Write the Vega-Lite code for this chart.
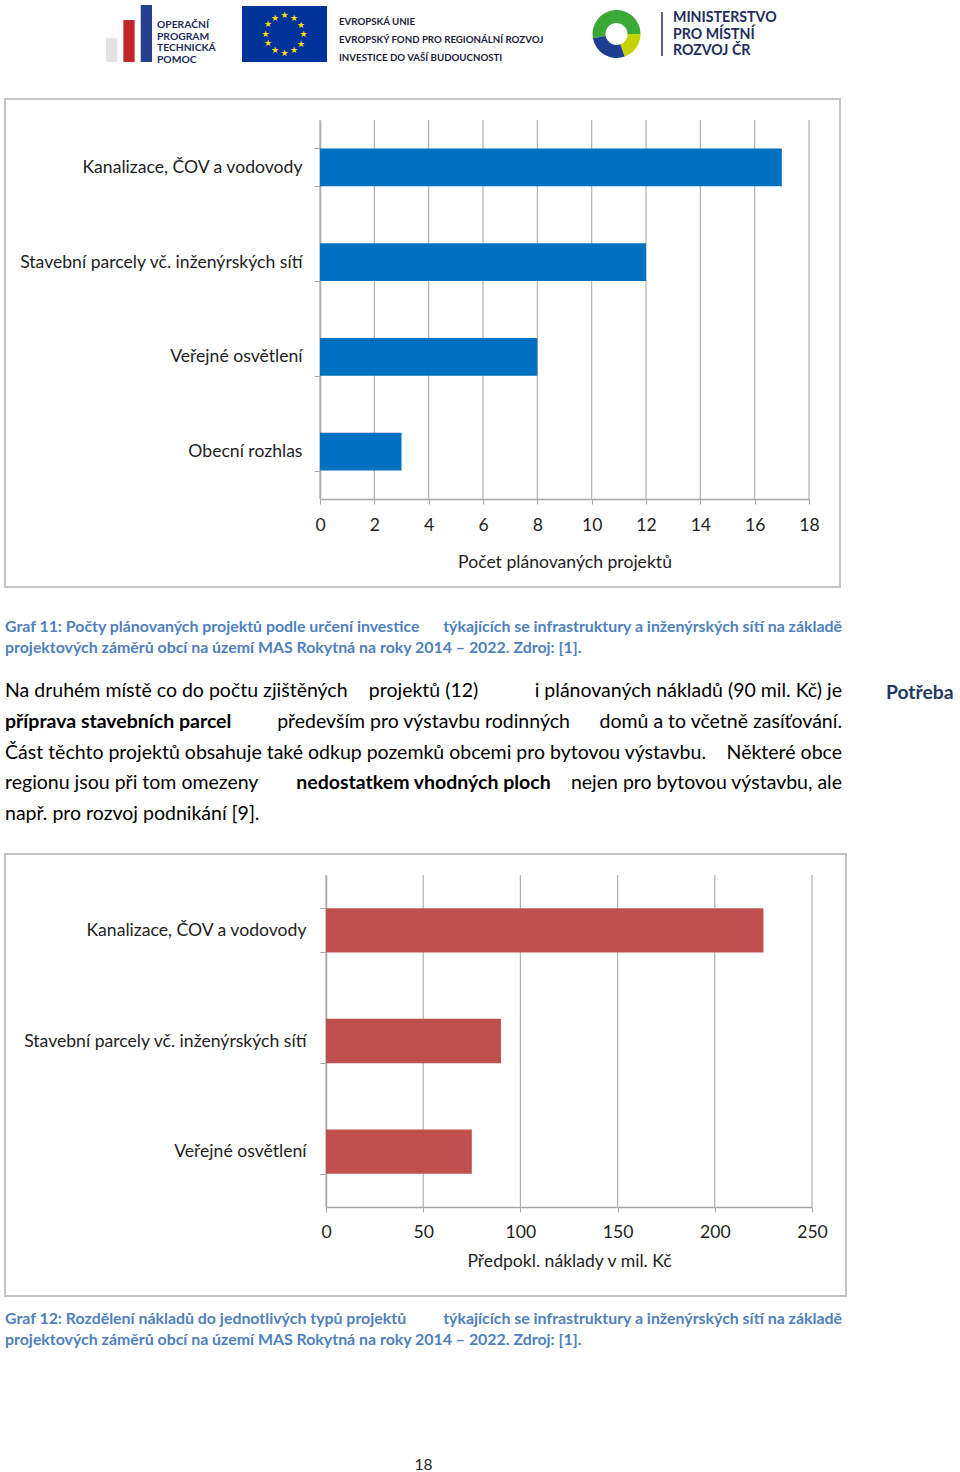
{
  "$schema": "https://vega.github.io/schema/vega-lite/v6.json",
  "width": 960,
  "height": 1472,
  "autosize": {"type": "none"},
  "padding": 0,
  "background": "#ffffff",
  "config": {"view": {"stroke": null}, "font": "Lato"},
  "resolve": {"scale": {"x": "independent", "y": "independent", "color": "independent", "theta": "independent"}},
  "layer": [
    {
      "data": {"values": [{"f": "Graf 11"}]},
      "mark": {"type": "rect", "filled": false, "stroke": "#c4c4c4", "strokeWidth": 2},
      "encoding": {
        "x": {"datum": 0, "type": "quantitative", "scale": {"domain": [0, 1], "range": [5, 840]}, "axis": null},
        "x2": {"datum": 1},
        "y": {"datum": 0, "type": "quantitative", "scale": {"domain": [0, 1], "range": [99, 587]}, "axis": null},
        "y2": {"datum": 1}
      }
    },
    {
      "data": {"values": [{"f": "Graf 12"}]},
      "mark": {"type": "rect", "filled": false, "stroke": "#c4c4c4", "strokeWidth": 2},
      "encoding": {
        "x": {"datum": 0, "type": "quantitative", "scale": {"domain": [0, 1], "range": [5, 846]}, "axis": null},
        "x2": {"datum": 1},
        "y": {"datum": 0, "type": "quantitative", "scale": {"domain": [0, 1], "range": [854, 1296]}, "axis": null},
        "y2": {"datum": 1}
      }
    },
    {
      "data": {"values": [{"v": 0}, {"v": 2}, {"v": 4}, {"v": 6}, {"v": 8}, {"v": 10}, {"v": 12}, {"v": 14}, {"v": 16}, {"v": 18}]},
      "mark": {"type": "rule", "color": "#b0b0b0", "strokeWidth": 1.2},
      "encoding": {
        "x": {"field": "v", "type": "quantitative", "scale": {"domain": [0, 18], "range": [320, 809], "nice": false}, "axis": null},
        "y": {"datum": 0, "type": "quantitative", "scale": {"domain": [0, 1], "range": [120, 499]}, "axis": null},
        "y2": {"datum": 1}
      }
    },
    {
      "data": {"values": [
        {"typ": "Kanalizace, ČOV a vodovody", "pocet": 17},
        {"typ": "Stavební parcely vč. inženýrských sítí", "pocet": 12},
        {"typ": "Veřejné osvětlení", "pocet": 8},
        {"typ": "Obecní rozhlas", "pocet": 3}
      ]},
      "mark": {"type": "bar", "color": "#0070C0"},
      "encoding": {
        "y": {
          "field": "typ", "type": "nominal", "sort": null,
          "scale": {"range": [120, 499], "paddingInner": 0.6, "paddingOuter": 0.3},
          "axis": {"orient": "left", "offset": -320, "title": null, "domainColor": "#a6a6a6", "domainWidth": 1.5, "tickBand": "extent", "tickColor": "#a6a6a6", "tickSize": 6, "labelFont": "Lato", "labelFontSize": 17.6, "labelColor": "#1e1e1e", "labelPadding": 12, "labelLimit": 400, "grid": false}
        },
        "x": {
          "field": "pocet", "type": "quantitative",
          "scale": {"domain": [0, 18], "range": [320, 809], "nice": false},
          "axis": {"orient": "bottom", "offset": -973, "values": [0, 2, 4, 6, 8, 10, 12, 14, 16, 18], "title": "Počet plánovaných projektů", "titleFont": "Lato", "titleFontSize": 17.6, "titleFontWeight": "normal", "titleColor": "#1e1e1e", "titlePadding": 19, "labelFont": "Lato", "labelFontSize": 17.6, "labelColor": "#1e1e1e", "labelPadding": 12.5, "labelFlush": false, "labelOverlap": false, "tickSize": 5, "tickColor": "#a6a6a6", "domainColor": "#a6a6a6", "domainWidth": 1.5, "grid": false}
        }
      }
    },
    {
      "data": {"values": [{"v": 0}, {"v": 50}, {"v": 100}, {"v": 150}, {"v": 200}, {"v": 250}]},
      "mark": {"type": "rule", "color": "#b0b0b0", "strokeWidth": 1.2},
      "encoding": {
        "x": {"field": "v", "type": "quantitative", "scale": {"domain": [0, 250], "range": [326, 812], "nice": false}, "axis": null},
        "y": {"datum": 0, "type": "quantitative", "scale": {"domain": [0, 1], "range": [875, 1207]}, "axis": null},
        "y2": {"datum": 1}
      }
    },
    {
      "data": {"values": [
        {"typ": "Kanalizace, ČOV a vodovody", "naklady": 225},
        {"typ": "Stavební parcely vč. inženýrských sítí", "naklady": 90},
        {"typ": "Veřejné osvětlení", "naklady": 75}
      ]},
      "mark": {"type": "bar", "color": "#C0504D"},
      "encoding": {
        "y": {
          "field": "typ", "type": "nominal", "sort": null,
          "scale": {"range": [875, 1207], "paddingInner": 0.6, "paddingOuter": 0.3},
          "axis": {"orient": "left", "offset": -326, "title": null, "domainColor": "#a6a6a6", "domainWidth": 1.5, "tickBand": "extent", "tickColor": "#a6a6a6", "tickSize": 6, "labelFont": "Lato", "labelFontSize": 17.6, "labelColor": "#1e1e1e", "labelPadding": 14, "labelLimit": 400, "grid": false}
        },
        "x": {
          "field": "naklady", "type": "quantitative",
          "scale": {"domain": [0, 250], "range": [326, 812], "nice": false},
          "axis": {"orient": "bottom", "offset": -265, "values": [0, 50, 100, 150, 200, 250], "title": "Předpokl. náklady v mil. Kč", "titleFont": "Lato", "titleFontSize": 17.6, "titleFontWeight": "normal", "titleColor": "#1e1e1e", "titlePadding": 11, "labelFont": "Lato", "labelFontSize": 17.6, "labelColor": "#1e1e1e", "labelPadding": 11.5, "labelFlush": false, "labelOverlap": false, "tickSize": 5, "tickColor": "#a6a6a6", "domainColor": "#a6a6a6", "domainWidth": 1.5, "grid": false}
        }
      }
    },
    {
      "data": {"values": [{"c": "a", "h": 24}, {"c": "b", "h": 42}, {"c": "c", "h": 57}]},
      "mark": {"type": "bar"},
      "encoding": {
        "x": {"field": "c", "type": "nominal", "scale": {"range": [106, 152], "paddingInner": 0.35, "paddingOuter": 0}, "axis": null},
        "y": {"field": "h", "type": "quantitative", "scale": {"domain": [0, 57], "range": [62, 5]}, "axis": null},
        "color": {"field": "c", "type": "nominal", "scale": {"domain": ["a", "b", "c"], "range": ["#e3e3e3", "#c1272d", "#24408e"]}, "legend": null}
      }
    },
    {
      "data": {"values": [{"r": 1, "t": "OPERAČNÍ"}, {"r": 2, "t": "PROGRAM"}, {"r": 3, "t": "TECHNICKÁ"}, {"r": 4, "t": "POMOC"}]},
      "mark": {"type": "text", "font": "Lato", "fontWeight": "bold", "fontSize": 10.3, "color": "#1d2b5b", "align": "left", "baseline": "alphabetic"},
      "encoding": {
        "x": {"datum": 0, "type": "quantitative", "scale": {"domain": [0, 1], "range": [157, 230]}, "axis": null},
        "y": {"field": "r", "type": "ordinal", "scale": {"type": "point", "domain": [1, 2, 3, 4], "range": [28, 63], "padding": 0}, "axis": null},
        "text": {"field": "t"}
      }
    },
    {
      "data": {"values": [{"f": "EU"}]},
      "mark": {"type": "rect", "color": "#003399"},
      "encoding": {
        "x": {"datum": 0, "type": "quantitative", "scale": {"domain": [0, 1], "range": [242, 327]}, "axis": null},
        "x2": {"datum": 1},
        "y": {"datum": 0, "type": "quantitative", "scale": {"domain": [0, 1], "range": [6, 62]}, "axis": null},
        "y2": {"datum": 1}
      }
    },
    {
      "data": {"values": [{"s": 1, "v": 1}, {"s": 2, "v": 1}, {"s": 3, "v": 1}, {"s": 4, "v": 1}, {"s": 5, "v": 1}, {"s": 6, "v": 1}, {"s": 7, "v": 1}, {"s": 8, "v": 1}, {"s": 9, "v": 1}, {"s": 10, "v": 1}, {"s": 11, "v": 1}, {"s": 12, "v": 1}]},
      "mark": {"type": "text", "text": "★", "font": "DejaVu Sans", "fontSize": 9, "color": "#FFDD00", "radius": 19, "align": "center", "baseline": "middle"},
      "encoding": {
        "theta": {"field": "v", "type": "quantitative", "stack": true, "scale": {"domain": [0, 12], "range": [-0.2618, 6.0214]}},
        "order": {"field": "s", "type": "quantitative"},
        "x": {"datum": 0.5, "type": "quantitative", "scale": {"domain": [0, 1], "range": [242, 327]}, "axis": null},
        "y": {"datum": 0.5, "type": "quantitative", "scale": {"domain": [0, 1], "range": [6, 62]}, "axis": null}
      }
    },
    {
      "data": {"values": [{"r": 1, "t": "EVROPSKÁ UNIE"}, {"r": 2, "t": "EVROPSKÝ FOND PRO REGIONÁLNÍ ROZVOJ"}, {"r": 3, "t": "INVESTICE DO VAŠÍ BUDOUCNOSTI"}]},
      "mark": {"type": "text", "font": "Lato", "fontWeight": "bold", "fontSize": 9.7, "color": "#1d1d3b", "align": "left", "baseline": "alphabetic"},
      "encoding": {
        "x": {"datum": 0, "type": "quantitative", "scale": {"domain": [0, 1], "range": [339, 545]}, "axis": null},
        "y": {"field": "r", "type": "ordinal", "scale": {"type": "point", "domain": [1, 2, 3], "range": [25, 61], "padding": 0}, "axis": null},
        "text": {"field": "t"}
      }
    },
    {
      "data": {"values": [{"seg": "zelená", "o": 1, "v": 190}, {"seg": "žlutá", "o": 2, "v": 70}, {"seg": "modrá", "o": 3, "v": 100}]},
      "mark": {"type": "arc", "outerRadius": 24, "innerRadius": 11},
      "encoding": {
        "theta": {"field": "v", "type": "quantitative", "stack": true, "scale": {"domain": [0, 360], "range": [-1.745, 4.538]}},
        "order": {"field": "o", "type": "quantitative"},
        "color": {"field": "seg", "type": "nominal", "scale": {"domain": ["zelená", "žlutá", "modrá"], "range": ["#3aa935", "#c5d300", "#1d3f8f"]}, "legend": null},
        "x": {"datum": 0.5, "type": "quantitative", "scale": {"domain": [0, 1], "range": [583, 650]}, "axis": null},
        "y": {"datum": 0.5, "type": "quantitative", "scale": {"domain": [0, 1], "range": [13, 55]}, "axis": null}
      }
    },
    {
      "data": {"values": [{"f": "MMR"}]},
      "mark": {"type": "rule", "color": "#1f2d5c", "strokeWidth": 1.5},
      "encoding": {
        "x": {"datum": 0, "type": "quantitative", "scale": {"domain": [0, 1], "range": [662, 700]}, "axis": null},
        "y": {"datum": 0, "type": "quantitative", "scale": {"domain": [0, 1], "range": [12, 56]}, "axis": null},
        "y2": {"datum": 1}
      }
    },
    {
      "data": {"values": [{"r": 1, "t": "MINISTERSTVO"}, {"r": 2, "t": "PRO MÍSTNÍ"}, {"r": 3, "t": "ROZVOJ ČR"}]},
      "mark": {"type": "text", "font": "Lato", "fontWeight": "bold", "fontSize": 14.2, "color": "#1f2d5c", "align": "left", "baseline": "alphabetic"},
      "encoding": {
        "x": {"datum": 0, "type": "quantitative", "scale": {"domain": [0, 1], "range": [673, 780]}, "axis": null},
        "y": {"field": "r", "type": "ordinal", "scale": {"type": "point", "domain": [1, 2, 3], "range": [22, 55], "padding": 0}, "axis": null},
        "text": {"field": "t"}
      }
    },
    {
      "data": {"values": [{"r": 1, "t": "Graf 11: Počty plánovaných projektů podle určení investice"}, {"r": 2, "t": "projektových záměrů obcí na území MAS Rokytná na roky 2014 – 2022. Zdroj: [1]."}]},
      "mark": {"type": "text", "font": "Lato", "fontWeight": "bold", "fontSize": 15.9, "color": "#4F81BD", "align": "left", "baseline": "alphabetic"},
      "encoding": {
        "x": {"datum": 0, "type": "quantitative", "scale": {"domain": [0, 1], "range": [5, 842]}, "axis": null},
        "y": {"field": "r", "type": "ordinal", "scale": {"type": "point", "domain": [1, 2], "range": [632, 653], "padding": 0}, "axis": null},
        "text": {"field": "t"}
      }
    },
    {
      "data": {"values": [{"r": 1, "t": "týkajících se infrastruktury a inženýrských sítí na základě"}]},
      "mark": {"type": "text", "font": "Lato", "fontWeight": "bold", "fontSize": 15.9, "color": "#4F81BD", "align": "right", "baseline": "alphabetic"},
      "encoding": {
        "x": {"datum": 1, "type": "quantitative", "scale": {"domain": [0, 1], "range": [5, 842]}, "axis": null},
        "y": {"field": "r", "type": "ordinal", "scale": {"type": "point", "domain": [1, 2], "range": [632, 653], "padding": 0}, "axis": null},
        "text": {"field": "t"}
      }
    },
    {
      "data": {"values": [
        {"r": 1, "t": "Na druhém místě co do počtu zjištěných"},
        {"r": 3, "t": "Část těchto projektů obsahuje také odkup pozemků obcemi pro bytovou výstavbu."},
        {"r": 4, "t": "regionu jsou při tom omezeny"},
        {"r": 5, "t": "např. pro rozvoj podnikání [9]."}
      ]},
      "mark": {"type": "text", "font": "Lato", "fontSize": 19.5, "color": "#000000", "align": "left", "baseline": "alphabetic"},
      "encoding": {
        "x": {"datum": 0, "type": "quantitative", "scale": {"domain": [0, 1], "range": [5, 842]}, "axis": null},
        "y": {"field": "r", "type": "ordinal", "scale": {"type": "point", "domain": [1, 2, 3, 4, 5], "range": [697, 820], "padding": 0}, "axis": null},
        "text": {"field": "t"}
      }
    },
    {
      "data": {"values": [{"r": 2, "t": "příprava stavebních parcel"}]},
      "mark": {"type": "text", "font": "Lato", "fontWeight": "bold", "fontSize": 19.5, "color": "#000000", "align": "left", "baseline": "alphabetic"},
      "encoding": {
        "x": {"datum": 0, "type": "quantitative", "scale": {"domain": [0, 1], "range": [5, 842]}, "axis": null},
        "y": {"field": "r", "type": "ordinal", "scale": {"type": "point", "domain": [1, 2, 3, 4, 5], "range": [697, 820], "padding": 0}, "axis": null},
        "text": {"field": "t"}
      }
    },
    {
      "data": {"values": [{"r": 1, "t": "projektů (12)"}, {"r": 2, "t": "především pro výstavbu rodinných"}]},
      "mark": {"type": "text", "font": "Lato", "fontSize": 19.5, "color": "#000000", "align": "center", "baseline": "alphabetic"},
      "encoding": {
        "x": {"datum": 0.5, "type": "quantitative", "scale": {"domain": [0, 1], "range": [5, 842]}, "axis": null},
        "y": {"field": "r", "type": "ordinal", "scale": {"type": "point", "domain": [1, 2, 3, 4, 5], "range": [697, 820], "padding": 0}, "axis": null},
        "text": {"field": "t"}
      }
    },
    {
      "data": {"values": [{"r": 4, "t": "nedostatkem vhodných ploch"}]},
      "mark": {"type": "text", "font": "Lato", "fontWeight": "bold", "fontSize": 19.5, "color": "#000000", "align": "center", "baseline": "alphabetic"},
      "encoding": {
        "x": {"datum": 0.5, "type": "quantitative", "scale": {"domain": [0, 1], "range": [5, 842]}, "axis": null},
        "y": {"field": "r", "type": "ordinal", "scale": {"type": "point", "domain": [1, 2, 3, 4, 5], "range": [697, 820], "padding": 0}, "axis": null},
        "text": {"field": "t"}
      }
    },
    {
      "data": {"values": [
        {"r": 1, "t": "i plánovaných nákladů (90 mil. Kč) je"},
        {"r": 2, "t": "domů a to včetně zasíťování."},
        {"r": 3, "t": "Některé obce"},
        {"r": 4, "t": "nejen pro bytovou výstavbu, ale"}
      ]},
      "mark": {"type": "text", "font": "Lato", "fontSize": 19.5, "color": "#000000", "align": "right", "baseline": "alphabetic"},
      "encoding": {
        "x": {"datum": 1, "type": "quantitative", "scale": {"domain": [0, 1], "range": [5, 842]}, "axis": null},
        "y": {"field": "r", "type": "ordinal", "scale": {"type": "point", "domain": [1, 2, 3, 4, 5], "range": [697, 820], "padding": 0}, "axis": null},
        "text": {"field": "t"}
      }
    },
    {
      "data": {"values": [{"t": "Potřeba"}]},
      "mark": {"type": "text", "font": "Lato", "fontWeight": "bold", "fontSize": 19.3, "color": "#1F3A60", "align": "left", "baseline": "alphabetic"},
      "encoding": {
        "x": {"datum": 0, "type": "quantitative", "scale": {"domain": [0, 1], "range": [886, 960]}, "axis": null},
        "y": {"datum": 0, "type": "quantitative", "scale": {"domain": [0, 1], "range": [699, 720]}, "axis": null},
        "text": {"field": "t"}
      }
    },
    {
      "data": {"values": [{"r": 1, "t": "Graf 12: Rozdělení nákladů do jednotlivých typů projektů"}, {"r": 2, "t": "projektových záměrů obcí na území MAS Rokytná na roky 2014 – 2022. Zdroj: [1]."}]},
      "mark": {"type": "text", "font": "Lato", "fontWeight": "bold", "fontSize": 15.9, "color": "#4F81BD", "align": "left", "baseline": "alphabetic"},
      "encoding": {
        "x": {"datum": 0, "type": "quantitative", "scale": {"domain": [0, 1], "range": [5, 842]}, "axis": null},
        "y": {"field": "r", "type": "ordinal", "scale": {"type": "point", "domain": [1, 2], "range": [1324, 1345], "padding": 0}, "axis": null},
        "text": {"field": "t"}
      }
    },
    {
      "data": {"values": [{"r": 1, "t": "týkajících se infrastruktury a inženýrských sítí na základě"}]},
      "mark": {"type": "text", "font": "Lato", "fontWeight": "bold", "fontSize": 15.9, "color": "#4F81BD", "align": "right", "baseline": "alphabetic"},
      "encoding": {
        "x": {"datum": 1, "type": "quantitative", "scale": {"domain": [0, 1], "range": [5, 842]}, "axis": null},
        "y": {"field": "r", "type": "ordinal", "scale": {"type": "point", "domain": [1, 2], "range": [1324, 1345], "padding": 0}, "axis": null},
        "text": {"field": "t"}
      }
    },
    {
      "data": {"values": [{"t": "18"}]},
      "mark": {"type": "text", "font": "Lato", "fontSize": 15.5, "color": "#1e1e1e", "align": "center", "baseline": "alphabetic"},
      "encoding": {
        "x": {"datum": 0.5, "type": "quantitative", "scale": {"domain": [0, 1], "range": [5, 842]}, "axis": null},
        "y": {"datum": 0, "type": "quantitative", "scale": {"domain": [0, 1], "range": [1470, 1472]}, "axis": null},
        "text": {"field": "t"}
      }
    }
  ]
}
